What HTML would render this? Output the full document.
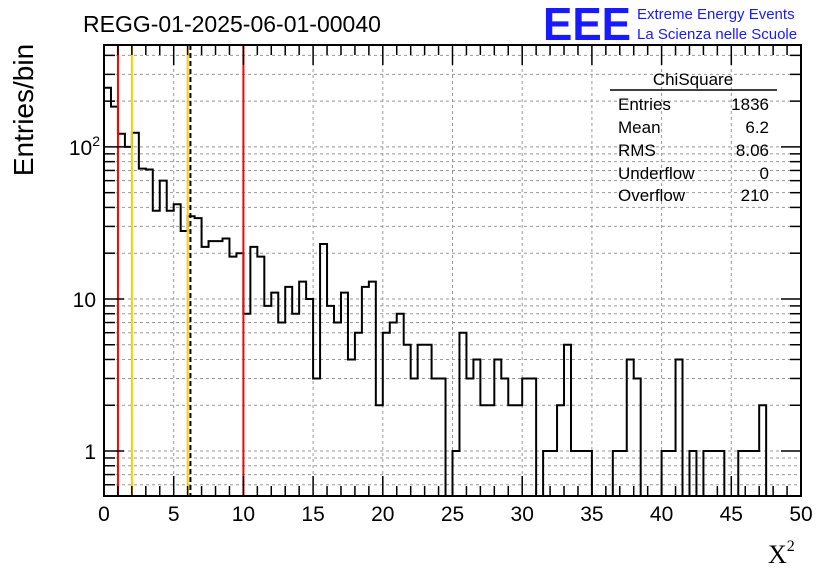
<!DOCTYPE html>
<html><head><meta charset="utf-8"><style>
body{margin:0;background:#fff;}
svg{display:block;font-family:"Liberation Sans",sans-serif;}
</style></head><body>
<svg id="c" width="836" height="572">
<text x="83" y="32" font-size="23">REGG-01-2025-06-01-00040</text>
<text x="543" y="40" font-size="46" font-weight="bold" fill="#1a1aff" textLength="88" lengthAdjust="spacingAndGlyphs">EEE</text>
<text x="637" y="19" font-size="15" fill="#1a1aff">Extreme Energy Events</text>
<text x="637" y="39" font-size="15" fill="#1a1aff">La Scienza nelle Scuole</text>
<text transform="translate(33,110) rotate(-90)" font-size="28" text-anchor="middle">Entries/bin</text>
<text x="768" y="563" font-size="26" font-family="Liberation Serif,serif">X<tspan font-size="16" dy="-12">2</tspan></text>
<g id="grid"></g><g id="marks"></g><g id="axes"></g>
<g font-size="17">
<line x1="610" y1="90" x2="777" y2="90" stroke="#000" stroke-width="1.5"/>
<text x="693" y="85" text-anchor="middle">ChiSquare</text>
<text x="618" y="110">Entries</text><text x="769" y="110" text-anchor="end">1836</text>
<text x="618" y="133">Mean</text><text x="769" y="133" text-anchor="end">6.2</text>
<text x="618" y="156">RMS</text><text x="769" y="156" text-anchor="end">8.06</text>
<text x="618" y="179">Underflow</text><text x="769" y="179" text-anchor="end">0</text>
<text x="618" y="201">Overflow</text><text x="769" y="201" text-anchor="end">210</text>
</g>
</svg>
<script>
const binCounts=[245,184,122,100,124,72,71,38,60,38,42,28,35,34,22,24,24,25,19,20,
8,22,19,9,11,7,12,8,13,10,3,23,9,7,11,4,6,12,13,2,
6,7,8,5,3,5,5,3,3,0,1,6,3,4,2,2,4,3,2,2,
3,3,0,1,1,2,5,1,1,1,0,0,0,1,1,4,3,0,0,0,
1,1,4,0,1,0,1,1,1,0,0,1,1,1,2,0,0,0,0,0];
const binWidth=0.5;
const xTicks=[0,5,10,15,20,25,30,35,40,45,50];
const yTicks=[1,10,100];
const yTickLabels=["1","10","10²"];
const redLines=[1,10];
const yellowLines=[2,6];
const meanValue=6.2;
const L=104,R=801,T=45,B=496,xmin=0,xmax=50,ymin=0.506,ymax=468;
const sx=v=>L+(v-xmin)/(xmax-xmin)*(R-L);
const sy=v=>{const a=Math.log10(ymin),b=Math.log10(ymax);return B-(Math.log10(Math.max(v,ymin))-a)/(b-a)*(B-T);};
const NS='http://www.w3.org/2000/svg';
function mk(p,t,a){const e=document.createElementNS(NS,t);for(const k in a)e.setAttribute(k,a[k]);p.appendChild(e);return e;}
const grid=document.getElementById('grid'),marks=document.getElementById('marks'),axes=document.getElementById('axes');
xTicks.forEach(v=>{if(v>xmin&&v<xmax){const g=mk(grid,'line',{x1:sx(v),x2:sx(v),y1:T,y2:B,stroke:'#999','stroke-dasharray':'3,3','stroke-width':1});

}});
for(let d=0;d<=2;d++)for(let m=1;m<=9;m++){const v=m*Math.pow(10,d);if(v<ymin||v>ymax)continue;
const g=mk(grid,'line',{x1:L,x2:R,y1:sy(v),y2:sy(v),stroke:'#999','stroke-dasharray':'3,3','stroke-width':1});


const len=m===1?20:11;
const t1=mk(axes,'line',{x1:L,x2:L+len,y1:sy(v),y2:sy(v),stroke:'#000','stroke-width':1.5});


const t2=mk(axes,'line',{x1:R-len,x2:R,y1:sy(v),y2:sy(v),stroke:'#000','stroke-width':1.5});

}
[0.6,0.7,0.8,0.9].forEach(v=>{const t=mk(axes,'line',{x1:L,x2:L+11,y1:sy(v),y2:sy(v),stroke:'#000','stroke-width':1.5});


const g=mk(grid,'line',{x1:L,x2:R,y1:sy(v),y2:sy(v),stroke:'#999','stroke-dasharray':'3,3','stroke-width':1});

});
let d='M'+sx(0)+','+B;
binCounts.forEach((c,i)=>{const y=c>0?sy(c):B;d+=' L'+sx(i*binWidth)+','+y+' L'+sx((i+1)*binWidth)+','+y;});
d+=' L'+sx(binCounts.length*binWidth)+','+B;
const h=mk(marks,'path',{d:d,fill:'none',stroke:'#000','stroke-width':2});


redLines.forEach(v=>{const l=mk(marks,'line',{x1:sx(v),x2:sx(v),y1:T,y2:B,stroke:'#f00','stroke-width':2});

});
yellowLines.forEach(v=>{const l=mk(marks,'line',{x1:sx(v),x2:sx(v),y1:T,y2:B,stroke:'#fc0','stroke-width':2});

});
const ml=mk(marks,'line',{x1:sx(meanValue),x2:sx(meanValue),y1:T,y2:B,stroke:'#000','stroke-width':2,'stroke-dasharray':'5,3'});


const fr=mk(axes,'rect',{x:L,y:T,width:R-L,height:B-T,fill:'none',stroke:'#000','stroke-width':2});


for(let v=xmin;v<=xmax;v++){const len=v%5===0?20:10;
const a=mk(axes,'line',{x1:sx(v),x2:sx(v),y1:B,y2:B-len,stroke:'#000','stroke-width':1.5});


const b=mk(axes,'line',{x1:sx(v),x2:sx(v),y1:T,y2:T+len,stroke:'#000','stroke-width':1.5});

}
xTicks.forEach(v=>{const t=mk(axes,'text',{x:sx(v),y:521,'font-size':21,'text-anchor':'middle'});t.textContent=String(v);

});
yTicks.forEach((v,i)=>{const t=mk(axes,'text',{x:96,y:sy(v)+8,'font-size':21,'text-anchor':'end'});
if(v===100){t.textContent='10';const s=mk(t,'tspan',{dy:-9,'font-size':14});s.textContent='2';t.setAttribute('x',100);}
else t.textContent=yTickLabels[i];

});
</script>
</body></html>
